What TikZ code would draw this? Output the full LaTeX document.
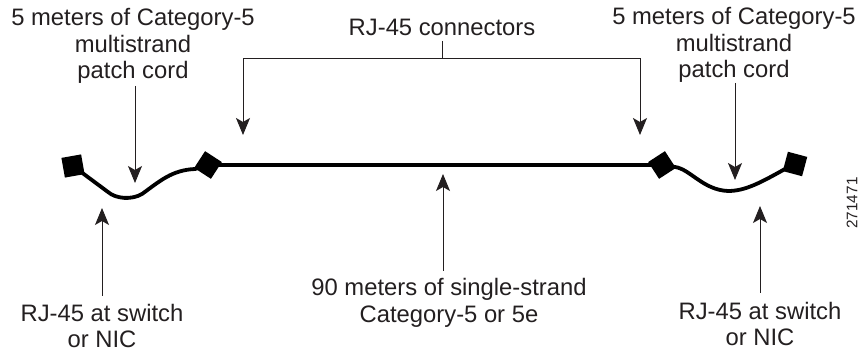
\documentclass[tikz,border=0pt]{standalone}
\usepackage{fontspec}
\setmainfont{Liberation Sans}
\usetikzlibrary{arrows.meta}
\definecolor{leadgray}{RGB}{35,31,32}
\tikzset{
	lbl/.style={inner sep=0pt,align=center,font=\fontsize{23.8}{26.6}\selectfont,text=leadgray},
	plug/.style={fill=black,inner sep=0pt,minimum size=20pt},
	cord/.style={line width=3.8pt,black},
	lead/.style={line width=0.9pt,leadgray,-{Stealth[length=17pt,width=14pt,inset=4pt]}}
}
\begin{document}
\begin{tikzpicture}[x=1pt,y=-1pt]
	\useasboundingbox (0,0) rectangle (860,352);
	\node [plug,rotate=10] (plugA) at (73,166) {};
	\node [plug,rotate=-33] (plugB) at (208,165) {};
	\node [plug,rotate=33] (plugC) at (662,165) {};
	\node [plug,rotate=-15] (plugD) at (795,164) {};
	\draw [cord] (plugB.center) -- (plugC.center);
	\draw [cord] (plugA.center) -- (108,192) .. controls (116,199) and (132,200) .. (142,194)
		.. controls (160,181) and (172,170) .. (195,169) -- (plugB.center);
	\draw [cord] (plugC.center) -- (675,167) .. controls (690,169) and (703,190) .. (728,191)
		.. controls (745,191) and (760,183) .. (785,169) -- (plugD.center);
	\node [lbl] (cordL) at (133,46) {5 meters of Category-5\\multistrand\\patch cord};
	\node [lbl] (cordR) at (734,45) {5 meters of Category-5\\multistrand\\patch cord};
	\node [lbl] (rj) at (442,27) {RJ-45 connectors};
	\node [lbl] (run) at (449,303) {90 meters of single-strand\\Category-5 or 5e};
	\node [lbl] (nicL) at (102,326) {RJ-45 at switch\\or NIC};
	\node [lbl] (nicR) at (760,324) {RJ-45 at switch\\or NIC};
	\node [inner sep=0pt,rotate=90,text=leadgray,font=\fontsize{15.3}{17}\selectfont] (tag) at (852,203) {271471};
	\coordinate (tipA) at (135,183);
	\coordinate (tipB) at (243,135);
	\coordinate (tipC) at (640,135);
	\coordinate (tipD) at (735,180);
	\coordinate (tipE) at (102,208);
	\coordinate (tipF) at (443,174);
	\coordinate (tipG) at (760,206);
	\coordinate (stem) at (442,41);
	\coordinate (fork) at (442,58);
	\draw [lead] (135,86) -- (tipA);
	\draw [lead] (735,83) -- (tipD);
	\draw [leadgray,line width=0.9pt] (stem) -- (fork);
	\draw [lead] (fork) -| (tipB);
	\draw [lead] (fork) -| (tipC);
	\draw [lead] (102,296) -- (tipE);
	\draw [lead] (443,271) -- (tipF);
	\draw [lead] (760,293) -- (tipG);
\end{tikzpicture}
\end{document}
